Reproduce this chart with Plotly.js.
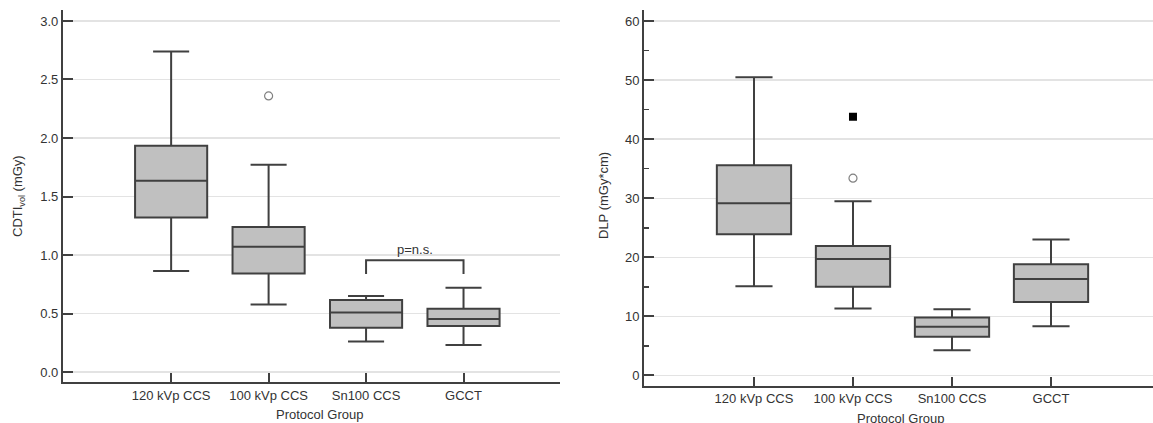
<!DOCTYPE html>
<html><head><meta charset="utf-8">
<script src="https://cdn.plot.ly/plotly-3.0.1.min.js"></script>
<style>html,body{margin:0;padding:0;background:#fff}#chart{width:1153px;height:423px}</style>
</head><body><div id="chart"></div>
<script>
const categories = ["120 kVp CCS", "100 kVp CCS", "Sn100 CCS", "GCCT"];

// CTDIvol (mGy)
const ctdiLower  = [0.863, 0.578, 0.262, 0.231];
const ctdiQ1     = [1.32, 0.843, 0.379, 0.393];
const ctdiMedian = [1.635, 1.071, 0.51, 0.453];
const ctdiQ3     = [1.934, 1.239, 0.615, 0.541];
const ctdiUpper  = [2.74, 1.772, 0.65, 0.72];
const ctdiOutCat = ["100 kVp CCS"];
const ctdiOutVal = [2.36];

// DLP (mGy*cm)
const dlpLower  = [15.1, 11.3, 4.24, 8.3];
const dlpQ1     = [23.9, 15.0, 6.55, 12.4];
const dlpMedian = [29.15, 19.7, 8.24, 16.3];
const dlpQ3     = [35.6, 21.9, 9.8, 18.8];
const dlpUpper  = [50.5, 29.5, 11.2, 23.0];
const dlpOutCat = ["100 kVp CCS"];
const dlpOutVal = [33.4];
const dlpFarCat = ["100 kVp CCS"];
const dlpFarVal = [43.8];

// significance bracket (left panel)
const bracketCats = ["Sn100 CCS", "GCCT"];
const bracketTop = 0.955, bracketBottom = 0.838;
const bracketLabel = "p=n.s.";

const lineCol = "#404040", fillCol = "#c0c0c0", txt = "#333333", grid = "#e3e3e3";
const font = {family: "Liberation Sans, Arial, sans-serif", size: 13, color: txt};

function boxTrace(lo, q1, med, q3, hi, xa, ya, w) {
  return {type: "box", x: categories, q1: q1, median: med, q3: q3,
    lowerfence: lo, upperfence: hi, xaxis: xa, yaxis: ya,
    fillcolor: fillCol, line: {color: lineCol, width: 2}, whiskerwidth: 0.5,
    width: w, boxpoints: false, hoverinfo: "skip", showlegend: false};
}

const data = [
  boxTrace(ctdiLower, ctdiQ1, ctdiMedian, ctdiQ3, ctdiUpper, "x", "y", 0.74),
  {type: "scatter", mode: "markers", x: ctdiOutCat, y: ctdiOutVal, xaxis: "x", yaxis: "y",
   marker: {symbol: "circle-open", size: 8, color: "#808080", line: {width: 1.2}}, showlegend: false},
  boxTrace(dlpLower, dlpQ1, dlpMedian, dlpQ3, dlpUpper, "x2", "y2", 0.75),
  {type: "scatter", mode: "markers", x: dlpOutCat, y: dlpOutVal, xaxis: "x2", yaxis: "y2",
   marker: {symbol: "circle-open", size: 8, color: "#808080", line: {width: 1.2}}, showlegend: false},
  {type: "scatter", mode: "markers", x: dlpFarCat, y: dlpFarVal, xaxis: "x2", yaxis: "y2",
   marker: {symbol: "square", size: 8, color: "#000000"}, showlegend: false},
  {type: "scatter", mode: "lines", x: [bracketCats[0], bracketCats[0], bracketCats[1], bracketCats[1]],
   y: [bracketBottom, bracketTop, bracketTop, bracketBottom], xaxis: "x", yaxis: "y",
   line: {color: lineCol, width: 2}, hoverinfo: "skip", showlegend: false}
];

const xCommon = {type: "category", showline: true, linecolor: lineCol, linewidth: 2,
  ticks: "inside", ticklen: 9, tickwidth: 2, tickcolor: lineCol, showgrid: false,
  zeroline: false, tickfont: font, categoryorder: "array", categoryarray: categories};
const yCommon = {showline: true, linecolor: lineCol, linewidth: 2, ticks: "inside",
  ticklen: 10, tickwidth: 2, tickcolor: lineCol, showgrid: true, gridcolor: grid,
  gridwidth: 1.5, zeroline: false, tickfont: font};

const layout = {
  width: 1153, height: 423, margin: {l: 0, r: 0, t: 0, b: 0},
  paper_bgcolor: "#fff", plot_bgcolor: "#fff", font: font, showlegend: false,
  xaxis: Object.assign({}, xCommon, {domain: [0.0546, 0.4857], range: [-1.11, 3.99], anchor: "y"}),
  yaxis: Object.assign({}, yCommon, {domain: [0.0969, 0.9764], range: [-0.085, 3.094],
    tickvals: [0, 0.5, 1, 1.5, 2, 2.5, 3], ticktext: ["0.0","0.5","1.0","1.5","2.0","2.5","3.0"], anchor: "x"}),
  xaxis2: Object.assign({}, xCommon, {domain: [0.5586, 1.0], range: [-1.11, 4.03], anchor: "y2"}),
  yaxis2: Object.assign({}, yCommon, {domain: [0.0882, 0.9764], range: [-1.76, 61.9],
    tickvals: [0, 10, 20, 30, 40, 50, 60], anchor: "x2",
    minor: {tickvals: [5, 15, 25, 35, 45, 55], ticks: "inside", ticklen: 5, tickwidth: 1.5, tickcolor: lineCol, showgrid: false}}),
  annotations: [
    {text: bracketLabel, x: 2.5, y: bracketTop, xref: "x", yref: "y", xanchor: "center", yanchor: "bottom",
     yshift: 1, showarrow: false, font: font},
    {text: "CDTI<sub>vol</sub> (mGy)", textangle: -90, x: 18/1153, y: 1 - 196/423,
     xref: "paper", yref: "paper", xanchor: "center", yanchor: "middle", showarrow: false, font: font},
    {text: "DLP (mGy*cm)", textangle: -90, x: 603/1153, y: 1 - 196/423,
     xref: "paper", yref: "paper", xanchor: "center", yanchor: "middle", showarrow: false, font: font},
    {text: "Protocol Group", x: 319/1153, y: 1 - 414/423, xref: "paper", yref: "paper",
     xanchor: "center", yanchor: "middle", showarrow: false, font: font},
    {text: "Protocol Group", x: 900/1153, y: 1 - 418/423, xref: "paper", yref: "paper",
     xanchor: "center", yanchor: "middle", showarrow: false, font: font}
  ]
};

Plotly.newPlot("chart", data, layout, {displayModeBar: false, staticPlot: true});
</script></body></html>
